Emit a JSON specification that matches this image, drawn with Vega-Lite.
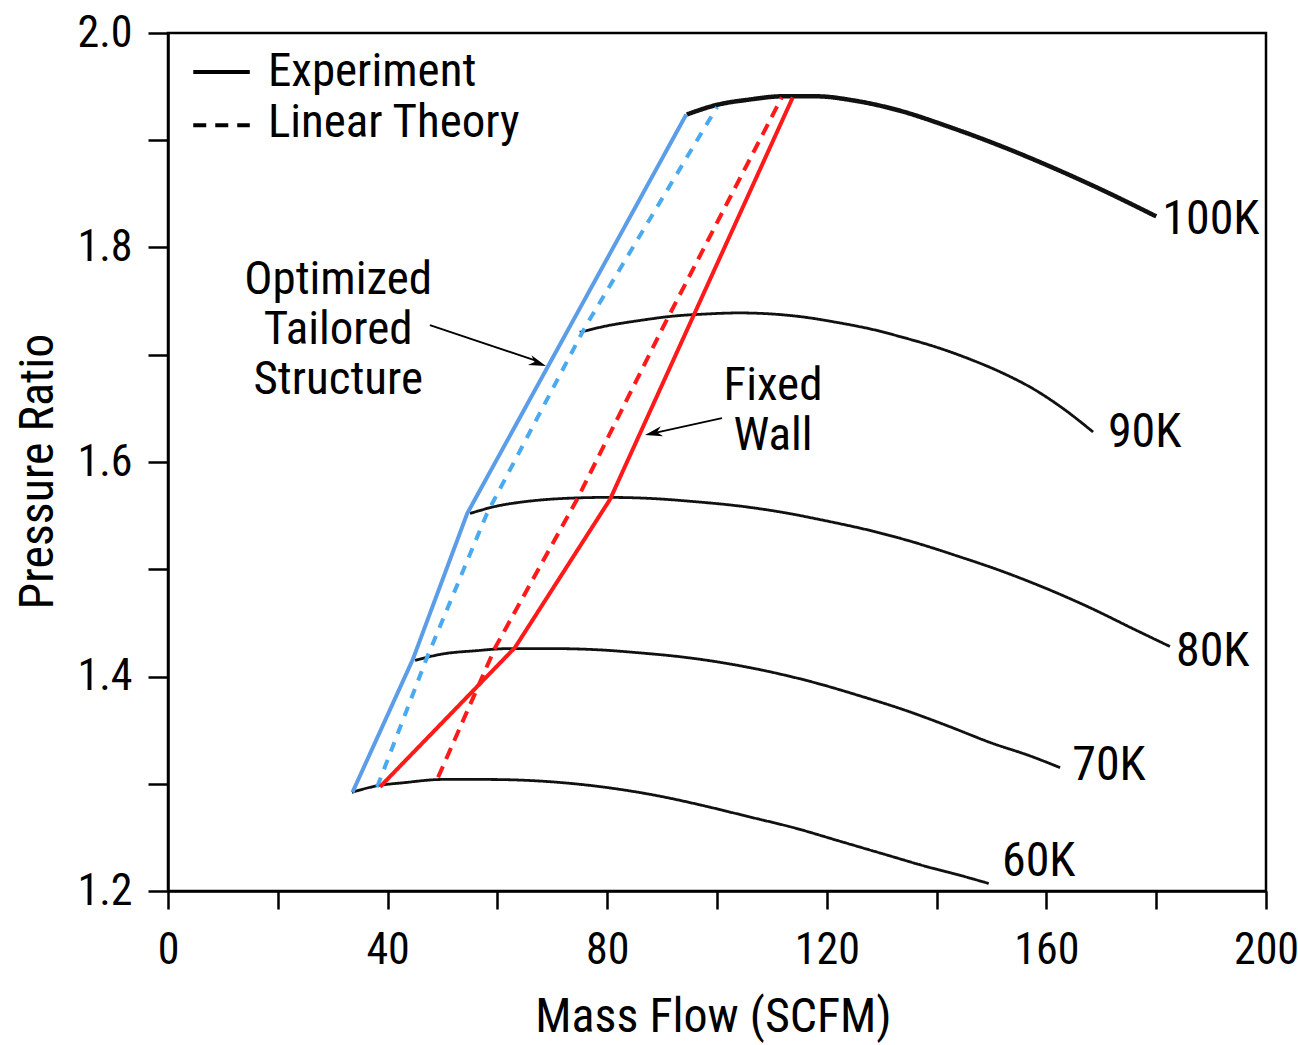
{
  "$schema": "https://vega.github.io/schema/vega-lite/v6.json",
  "width": 1098,
  "height": 858,
  "autosize": {"type": "none"},
  "padding": {"left": 168, "top": 33, "right": 32, "bottom": 154},
  "background": "white",
  "config": {
    "view": {"stroke": "black", "strokeWidth": 2.5},
    "font": "Liberation Sans Narrow, Arial Narrow, Roboto Condensed, sans-serif",
    "axis": {
      "grid": false,
      "domainColor": "black",
      "domainWidth": 2.5,
      "tickColor": "black",
      "tickWidth": 2.5,
      "labelColor": "black",
      "titleColor": "black",
      "labelFont": "Liberation Sans Narrow, Arial Narrow, Roboto Condensed, sans-serif",
      "titleFont": "Liberation Sans Narrow, Arial Narrow, Roboto Condensed, sans-serif",
      "labelFontSize": 44,
      "titleFontSize": 48,
      "titleFontWeight": "normal"
    }
  },
  "datasets": {
    "lines": [
      {"series": "60K", "x": 33.5, "y": 1.292}, {"series": "60K", "x": 38, "y": 1.298}, {"series": "60K", "x": 43, "y": 1.301}, {"series": "60K", "x": 50, "y": 1.304}, {"series": "60K", "x": 58, "y": 1.304}, {"series": "60K", "x": 66, "y": 1.303}, {"series": "60K", "x": 74, "y": 1.300}, {"series": "60K", "x": 82, "y": 1.295}, {"series": "60K", "x": 90, "y": 1.288}, {"series": "60K", "x": 98, "y": 1.279}, {"series": "60K", "x": 106, "y": 1.269}, {"series": "60K", "x": 114, "y": 1.259}, {"series": "60K", "x": 122, "y": 1.247}, {"series": "60K", "x": 130, "y": 1.235}, {"series": "60K", "x": 138, "y": 1.223}, {"series": "60K", "x": 144, "y": 1.215}, {"series": "60K", "x": 149.5, "y": 1.207},
      {"series": "70K", "x": 45, "y": 1.415}, {"series": "70K", "x": 50, "y": 1.421}, {"series": "70K", "x": 56, "y": 1.424}, {"series": "70K", "x": 62, "y": 1.426}, {"series": "70K", "x": 70, "y": 1.426}, {"series": "70K", "x": 78, "y": 1.425}, {"series": "70K", "x": 86, "y": 1.422}, {"series": "70K", "x": 94, "y": 1.418}, {"series": "70K", "x": 102, "y": 1.412}, {"series": "70K", "x": 110, "y": 1.404}, {"series": "70K", "x": 118, "y": 1.394}, {"series": "70K", "x": 126, "y": 1.382}, {"series": "70K", "x": 134, "y": 1.369}, {"series": "70K", "x": 142, "y": 1.354}, {"series": "70K", "x": 150, "y": 1.338}, {"series": "70K", "x": 157, "y": 1.326}, {"series": "70K", "x": 162.5, "y": 1.315},
      {"series": "80K", "x": 55, "y": 1.552}, {"series": "80K", "x": 60, "y": 1.559}, {"series": "80K", "x": 65, "y": 1.563}, {"series": "80K", "x": 72, "y": 1.566}, {"series": "80K", "x": 80, "y": 1.567}, {"series": "80K", "x": 88, "y": 1.566}, {"series": "80K", "x": 96, "y": 1.563}, {"series": "80K", "x": 104, "y": 1.559}, {"series": "80K", "x": 112, "y": 1.553}, {"series": "80K", "x": 120, "y": 1.545}, {"series": "80K", "x": 128, "y": 1.536}, {"series": "80K", "x": 136, "y": 1.525}, {"series": "80K", "x": 144, "y": 1.512}, {"series": "80K", "x": 152, "y": 1.498}, {"series": "80K", "x": 160, "y": 1.482}, {"series": "80K", "x": 168, "y": 1.464}, {"series": "80K", "x": 176, "y": 1.444}, {"series": "80K", "x": 182.5, "y": 1.428},
      {"series": "90K", "x": 75, "y": 1.721}, {"series": "90K", "x": 80, "y": 1.727}, {"series": "90K", "x": 86, "y": 1.732}, {"series": "90K", "x": 92, "y": 1.736}, {"series": "90K", "x": 98, "y": 1.738}, {"series": "90K", "x": 104, "y": 1.739}, {"series": "90K", "x": 110, "y": 1.738}, {"series": "90K", "x": 116, "y": 1.735}, {"series": "90K", "x": 122, "y": 1.730}, {"series": "90K", "x": 128, "y": 1.724}, {"series": "90K", "x": 134, "y": 1.716}, {"series": "90K", "x": 140, "y": 1.707}, {"series": "90K", "x": 146, "y": 1.696}, {"series": "90K", "x": 152, "y": 1.683}, {"series": "90K", "x": 158, "y": 1.667}, {"series": "90K", "x": 163, "y": 1.650}, {"series": "90K", "x": 168.5, "y": 1.628},
      {"series": "100K", "x": 94.5, "y": 1.924}, {"series": "100K", "x": 100, "y": 1.933}, {"series": "100K", "x": 106, "y": 1.938}, {"series": "100K", "x": 112, "y": 1.941}, {"series": "100K", "x": 118, "y": 1.941}, {"series": "100K", "x": 125, "y": 1.937}, {"series": "100K", "x": 133, "y": 1.928}, {"series": "100K", "x": 142, "y": 1.913}, {"series": "100K", "x": 151, "y": 1.896}, {"series": "100K", "x": 160, "y": 1.877}, {"series": "100K", "x": 170, "y": 1.854}, {"series": "100K", "x": 180, "y": 1.829},
      {"series": "Optimized experiment", "x": 33.6, "y": 1.292}, {"series": "Optimized experiment", "x": 44.6, "y": 1.416}, {"series": "Optimized experiment", "x": 54.5, "y": 1.552}, {"series": "Optimized experiment", "x": 94.4, "y": 1.924},
      {"series": "Optimized linear theory", "x": 38.1, "y": 1.297}, {"series": "Optimized linear theory", "x": 47.2, "y": 1.418}, {"series": "Optimized linear theory", "x": 58.1, "y": 1.552}, {"series": "Optimized linear theory", "x": 76.0, "y": 1.726}, {"series": "Optimized linear theory", "x": 100.0, "y": 1.931},
      {"series": "Fixed wall experiment", "x": 38.6, "y": 1.297}, {"series": "Fixed wall experiment", "x": 63.2, "y": 1.427}, {"series": "Fixed wall experiment", "x": 80.5, "y": 1.565}, {"series": "Fixed wall experiment", "x": 113.8, "y": 1.940},
      {"series": "Fixed wall linear theory", "x": 49.2, "y": 1.306}, {"series": "Fixed wall linear theory", "x": 59.6, "y": 1.427}, {"series": "Fixed wall linear theory", "x": 74.5, "y": 1.565}, {"series": "Fixed wall linear theory", "x": 90.2, "y": 1.726}, {"series": "Fixed wall linear theory", "x": 111.8, "y": 1.940}
    ],
    "speedLabels": [
      {"label": "100K", "x": 181.1, "y": 1.826},
      {"label": "90K", "x": 171.2, "y": 1.627},
      {"label": "80K", "x": 183.6, "y": 1.423},
      {"label": "70K", "x": 164.7, "y": 1.317},
      {"label": "60K", "x": 151.9, "y": 1.227}
    ],
    "notes": [
      {"label": "Optimized", "x": 31.0, "y": 1.770},
      {"label": "Tailored", "x": 31.0, "y": 1.723},
      {"label": "Structure", "x": 31.0, "y": 1.676},
      {"label": "Fixed", "x": 110.2, "y": 1.671},
      {"label": "Wall", "x": 110.2, "y": 1.624}
    ],
    "legendLines": [
      {"kind": "Experiment", "x": 4.6, "x2": 14.9, "y": 1.9636},
      {"kind": "Linear Theory", "x": 4.6, "x2": 14.9, "y": 1.914}
    ],
    "legendText": [
      {"label": "Experiment", "x": 18.2, "y": 1.9636},
      {"label": "Linear Theory", "x": 18.2, "y": 1.916}
    ],
    "arrows": [
      {"arrow": "Optimized", "x": 47.7, "y": 1.7277, "x2": 67.0, "y2": 1.6945},
      {"arrow": "Fixed", "x": 100.9, "y": 1.641, "x2": 88.9, "y2": 1.6275}
    ],
    "arrowTips": [
      {"arrow": "Optimized", "x": 68.85, "y": 1.6895},
      {"arrow": "Fixed", "x": 86.9, "y": 1.6252}
    ]
  },
  "layer": [
    {
      "data": {"name": "lines"},
      "encoding": {
        "x": {
          "field": "x", "type": "quantitative",
          "scale": {"domain": [0, 200], "nice": false, "zero": false},
          "axis": {
            "values": [0, 20, 40, 60, 80, 100, 120, 140, 160, 180, 200],
            "labelExpr": "datum.value % 40 === 0 ? datum.label : ''",
            "labelFlush": false,
            "labelOverlap": false,
            "tickSize": 18,
            "labelPadding": 19,
            "title": "Mass Flow (SCFM)",
            "titleBaseline": "alphabetic",
            "titleY": 140,
            "titleX": 545
          }
        },
        "y": {
          "field": "y", "type": "quantitative",
          "scale": {"domain": [1.2, 2.0], "nice": false, "zero": false},
          "axis": {
            "values": [1.2, 1.3, 1.4, 1.5, 1.6, 1.7, 1.8, 1.9, 2.0],
            "labelExpr": "round(datum.value * 10) % 2 === 0 ? format(datum.value, '.1f') : ''",
            "labelOverlap": false,
            "labelFlush": false,
            "tickSize": 20,
            "labelPadding": 16,
            "title": "Pressure Ratio",
            "titleBaseline": "alphabetic",
            "titleAngle": -90,
            "titleX": -116,
            "titleY": 438,
            "titleAlign": "center"
          }
        },
        "color": {
          "field": "series", "type": "nominal", "legend": null,
          "scale": {
            "domain": ["60K", "70K", "80K", "90K", "100K", "Optimized experiment", "Optimized linear theory", "Fixed wall experiment", "Fixed wall linear theory"],
            "range": ["#111111", "#111111", "#111111", "#111111", "#111111", "#5c9de8", "#4aaaf0", "#ff1a1a", "#ff1a1a"]
          }
        },
        "strokeDash": {
          "field": "series", "type": "nominal", "legend": null,
          "scale": {
            "domain": ["60K", "70K", "80K", "90K", "100K", "Optimized experiment", "Optimized linear theory", "Fixed wall experiment", "Fixed wall linear theory"],
            "range": [[1, 0], [1, 0], [1, 0], [1, 0], [1, 0], [1, 0], [10, 9], [1, 0], [12, 8]]
          }
        },
        "strokeWidth": {
          "field": "series", "type": "ordinal", "legend": null,
          "scale": {
            "type": "ordinal",
            "domain": ["60K", "70K", "80K", "90K", "100K", "Optimized experiment", "Optimized linear theory", "Fixed wall experiment", "Fixed wall linear theory"],
            "range": [2.8, 2.8, 2.8, 2.8, 4.5, 4, 4, 4, 4]
          }
        }
      },
      "layer": [
        {
          "transform": [{"filter": "indexof(['60K','70K','80K','90K','100K'], datum.series) >= 0"}],
          "mark": {"type": "line", "interpolate": "monotone", "strokeCap": "butt"}
        },
        {
          "transform": [{"filter": "indexof(['60K','70K','80K','90K','100K'], datum.series) < 0"}],
          "mark": {"type": "line", "strokeCap": "butt", "strokeJoin": "round"}
        }
      ]
    },
    {
      "data": {"name": "speedLabels"},
      "mark": {"type": "text", "align": "left", "baseline": "middle", "fontSize": 48, "color": "black"},
      "encoding": {
        "x": {"field": "x", "type": "quantitative"},
        "y": {"field": "y", "type": "quantitative"},
        "text": {"field": "label"}
      }
    },
    {
      "data": {"name": "notes"},
      "mark": {"type": "text", "align": "center", "baseline": "middle", "fontSize": 47, "color": "black"},
      "encoding": {
        "x": {"field": "x", "type": "quantitative"},
        "y": {"field": "y", "type": "quantitative"},
        "text": {"field": "label"}
      }
    },
    {
      "data": {"name": "legendLines"},
      "transform": [{"filter": "datum.kind === 'Experiment'"}],
      "mark": {"type": "rule", "color": "black", "strokeWidth": 4},
      "encoding": {
        "x": {"field": "x", "type": "quantitative"},
        "x2": {"field": "x2"},
        "y": {"field": "y", "type": "quantitative"}
      }
    },
    {
      "data": {"name": "legendLines"},
      "transform": [{"filter": "datum.kind === 'Linear Theory'"}],
      "mark": {"type": "rule", "color": "black", "strokeWidth": 4, "strokeDash": [13, 9]},
      "encoding": {
        "x": {"field": "x", "type": "quantitative"},
        "x2": {"field": "x2"},
        "y": {"field": "y", "type": "quantitative"}
      }
    },
    {
      "data": {"name": "legendText"},
      "mark": {"type": "text", "align": "left", "baseline": "middle", "fontSize": 47, "color": "black"},
      "encoding": {
        "x": {"field": "x", "type": "quantitative"},
        "y": {"field": "y", "type": "quantitative"},
        "text": {"field": "label"}
      }
    },
    {
      "data": {"name": "arrows"},
      "mark": {"type": "rule", "color": "black", "strokeWidth": 1.8},
      "encoding": {
        "x": {"field": "x", "type": "quantitative"},
        "y": {"field": "y", "type": "quantitative"},
        "x2": {"field": "x2"},
        "y2": {"field": "y2"}
      }
    },
    {
      "data": {"name": "arrowTips"},
      "transform": [{"filter": "datum.arrow === 'Optimized'"}],
      "mark": {"type": "point", "shape": "M0,0L-0.6,2L0,1.4L0.6,2Z", "filled": true, "color": "black", "opacity": 1, "size": 300, "angle": 109.6},
      "encoding": {
        "x": {"field": "x", "type": "quantitative"},
        "y": {"field": "y", "type": "quantitative"}
      }
    },
    {
      "data": {"name": "arrowTips"},
      "transform": [{"filter": "datum.arrow === 'Fixed'"}],
      "mark": {"type": "point", "shape": "M0,0L-0.6,2L0,1.4L0.6,2Z", "filled": true, "color": "black", "opacity": 1, "size": 300, "angle": 257.5},
      "encoding": {
        "x": {"field": "x", "type": "quantitative"},
        "y": {"field": "y", "type": "quantitative"}
      }
    }
  ]
}
